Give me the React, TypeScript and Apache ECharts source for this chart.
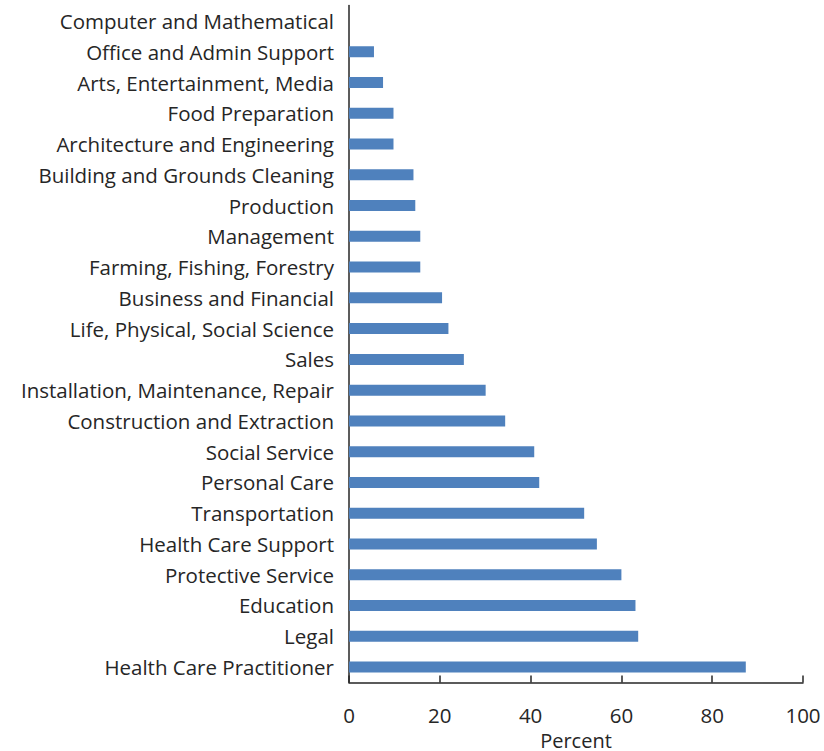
import React, { useEffect, useRef } from "react";
import * as echarts from "echarts";

const categories = [
  "Computer and Mathematical",
  "Office and Admin Support",
  "Arts, Entertainment, Media",
  "Food Preparation",
  "Architecture and Engineering",
  "Building and Grounds Cleaning",
  "Production",
  "Management",
  "Farming, Fishing, Forestry",
  "Business and Financial",
  "Life, Physical, Social Science",
  "Sales",
  "Installation, Maintenance, Repair",
  "Construction and Extraction",
  "Social Service",
  "Personal Care",
  "Transportation",
  "Health Care Support",
  "Protective Service",
  "Education",
  "Legal",
  "Health Care Practitioner",
];

const values = [
  0, 5.5, 7.5, 9.8, 9.8, 14.2, 14.6, 15.7, 15.7, 20.5, 21.9, 25.3, 30.1, 34.4,
  40.8, 41.9, 51.8, 54.6, 60.0, 63.1, 63.7, 87.4,
];

const xMin = 0;
const xMax = 100;
const xInterval = 20;
const xName = "Percent";

export default function App() {
  const ref = useRef<HTMLDivElement>(null);
  useEffect(() => {
    if (!ref.current) return;
    const chart = echarts.init(ref.current, undefined, { renderer: "svg", width: 824, height: 751 });
    const font = "'Open Sans', sans-serif";
    chart.setOption({
      animation: false,
      grid: {
        left: 349,
        right: 21,
        top: 5.6,
        bottom: 68.6,
        containLabel: false,
        outerBoundsMode: "none",
      },
      xAxis: {
        type: "value",
        min: xMin,
        max: xMax,
        interval: xInterval,
        name: xName,
        nameLocation: "middle",
        nameGap: 45,
        nameTextStyle: { fontFamily: font, fontSize: 20, lineHeight: 20, color: "#262626" },
        axisLine: { show: true, lineStyle: { color: "#262626", width: 1.5 } },
        axisTick: { show: true, inside: true, length: 7, lineStyle: { color: "#262626", width: 1.5 } },
        axisLabel: { fontFamily: font, fontSize: 20.5, color: "#262626", margin: 22.5 },
        splitLine: { show: false },
      },
      yAxis: {
        type: "category",
        data: categories,
        inverse: true,
        axisLine: { show: true, lineStyle: { color: "#262626", width: 1.5 } },
        axisTick: { show: false },
        axisLabel: { fontFamily: font, fontSize: 20.5, color: "#262626", margin: 15 },
        splitLine: { show: false },
      },
      series: [
        {
          type: "bar",
          data: values,
          barWidth: 11,
          itemStyle: { color: "#4F81BD" },
        },
      ],
    });
    return () => chart.dispose();
  }, []);
  return (
    <div
      ref={ref}
      style={{ position: "absolute", left: 0, top: 0, width: 824, height: 751, background: "#fff" }}
    />
  );
}
